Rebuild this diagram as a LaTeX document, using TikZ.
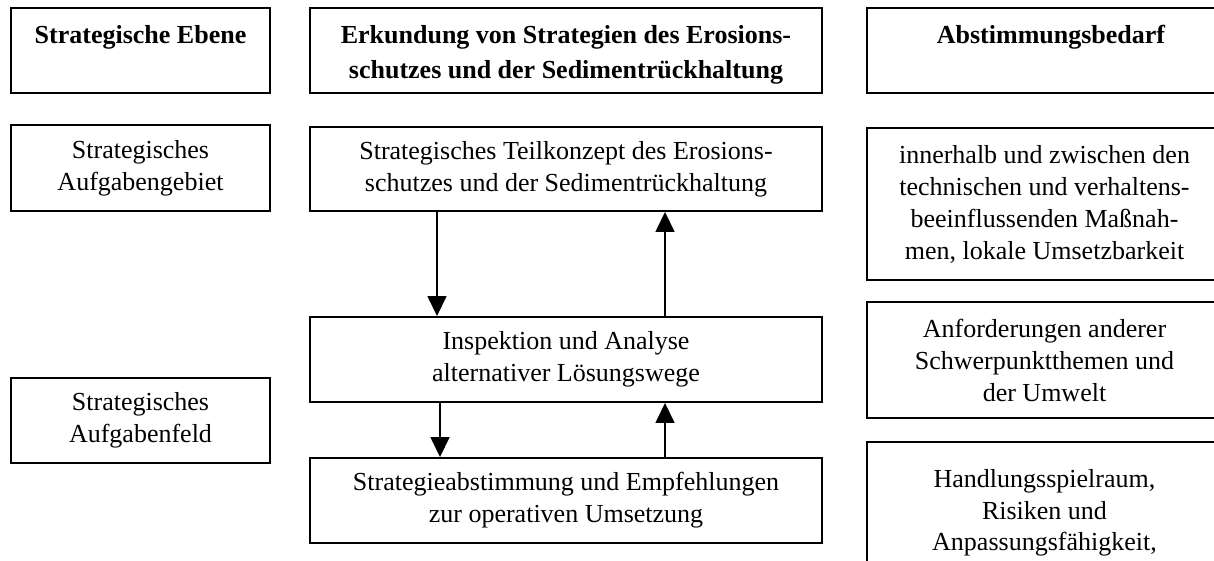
\documentclass[tikz,border=0pt]{standalone}
\usepackage{fontspec}
\setmainfont{Liberation Serif}
\usetikzlibrary{arrows.meta}
\begin{document}
\begin{tikzpicture}[x=1pt,y=-1pt,
  box/.style={draw, line width=1.9pt, rectangle, inner sep=0pt, align=center,
    font=\fontsize{26}{32}\selectfont},
  headtext/.style={inner sep=0pt, align=center, anchor=north,
    font=\fontsize{26}{35}\selectfont\bfseries},
  bodytext/.style={inner sep=0pt, align=center, anchor=north,
    font=\fontsize{26}{31.5}\selectfont},
  flow/.style={line width=1.5pt, -{Triangle[length=20pt,width=19pt]}}]
\useasboundingbox (0,0) rectangle (1214,560);

% left column: strategic levels
\node[box, minimum width=259pt, minimum height=85pt] (L1) at (140.5,50.5) {};
\node[headtext] (L1t) at (140.5,25.3) {Strategische Ebene};
\node[box, minimum width=259pt, minimum height=86pt] (L2) at (140.5,168)
  {Strategisches\\Aufgabengebiet};
\node[box, minimum width=259pt, minimum height=85pt] (L3) at (140.5,420.5)
  {Strategisches\\Aufgabenfeld};

% middle column: exploration of strategies
\node[box, minimum width=512pt, minimum height=85pt] (M1) at (566,50.5) {};
\node[headtext] (M1t) at (566,25.3)
  {Erkundung von Strategien des Erosions-\\schutzes und der Sedimentrückhaltung};
\node[box, minimum width=512pt, minimum height=84pt] (M2) at (566,169)
  {Strategisches Teilkonzept des Erosions-\\schutzes und der Sedimentrückhaltung};
\node[box, minimum width=512pt, minimum height=85pt] (M3) at (566,359.5)
  {Inspektion und Analyse\\alternativer Lösungswege};
\node[box, minimum width=512pt, minimum height=85pt] (M4) at (566,500.5)
  {Strategieabstimmung und Empfehlungen\\zur operativen Umsetzung};

% right column: coordination needs
\node[box, minimum width=355pt, minimum height=85pt] (R1) at (1044.5,50.5) {};
\node[headtext] (R1t) at (1051,25.3) {Abstimmungsbedarf};
\node[box, minimum width=355pt, minimum height=152pt] (R2) at (1044.5,204)
  {innerhalb und zwischen den\\technischen und verhaltens-\\beeinflussenden Maßnah-\\men, lokale Umsetzbarkeit};
\node[box, minimum width=355pt, minimum height=116pt] (R3) at (1044.5,360)
  {Anforderungen anderer\\Schwerpunktthemen und\\der Umwelt};
\node[box, minimum width=355pt, minimum height=150pt] (R4) at (1044.5,517) {};
\node[bodytext] (R4t) at (1044.5,469.5)
  {Handlungsspielraum,\\Risiken und\\Anpassungsfähigkeit,};

% feedback arrows between the stages
\coordinate (xa) at (437,0);
\coordinate (xb) at (440,0);
\coordinate (xc) at (665,0);
\draw[flow] (M2.south -| xa) -- (M3.north -| xa);
\draw[flow] (M3.north -| xc) -- (M2.south -| xc);
\draw[flow] (M3.south -| xb) -- (M4.north -| xb);
\draw[flow] (M4.north -| xc) -- (M3.south -| xc);
\end{tikzpicture}
\end{document}
